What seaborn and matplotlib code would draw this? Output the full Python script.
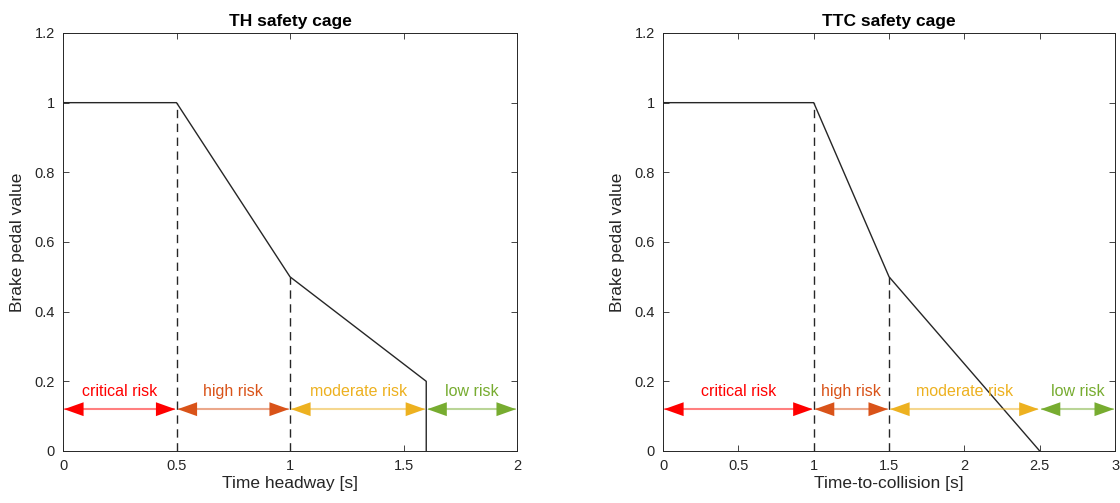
import seaborn as sns
import matplotlib.pyplot as plt
import pandas as pd

# brake curves
th_x = [0, 0.5, 1.0, 1.6, 1.6]
th_y = [1, 1, 0.5, 0.2, 0]
ttc_x = [0, 1.0, 1.5, 2.5]
ttc_y = [1, 1, 0.5, 0]

# risk zones (start, end) per panel
zone_names = ['critical risk', 'high risk', 'moderate risk', 'low risk']
zone_colors = ['#ff0000', '#d95319', '#edb120', '#77ac30']
th_zones = [(0, 0.5), (0.5, 1.0), (1.0, 1.6), (1.6, 2.0)]
ttc_zones = [(0, 1.0), (1.0, 1.5), (1.5, 2.5), (2.5, 3.0)]

# dashed markers (x, top)
th_dashes = [(0.5, 1.0), (1.0, 0.5)]
ttc_dashes = [(1.0, 1.0), (1.5, 0.5)]

sns.set_style("ticks")
plt.rcParams['font.family'] = ['Liberation Sans', 'DejaVu Sans']
plt.rcParams['axes.edgecolor'] = '#262626'
plt.rcParams['xtick.color'] = '#262626'
plt.rcParams['ytick.color'] = '#262626'

fig = plt.figure(figsize=(11.2, 5.03), dpi=100)
ax1 = fig.add_axes([0.05625, 0.1034, 0.4054, 0.831])
ax2 = fig.add_axes([0.592, 0.1034, 0.4036, 0.831])


def draw_panel(ax, cx, cy, zones, dashes, xmax, xlabel, title, pad):
    df = pd.DataFrame({'x': cx, 'y': cy})
    sns.lineplot(data=df, x='x', y='y', ax=ax, color='#262626', lw=1,
                 sort=False, estimator=None)
    for x, top in dashes:
        ax.plot([x, x], [0, top], color='#262626', lw=1, ls=(0, (6, 4)))
    for (a, b), name, col in zip(zones, zone_names, zone_colors):
        ax.plot([a + pad, b - pad], [0.12, 0.12], color=col, alpha=0.5, lw=1.5)
        ax.annotate('', xy=(b - pad * 0.5, 0.12), xytext=(a + pad * 0.5, 0.12),
                    arrowprops=dict(arrowstyle='<|-|>,head_length=1.4,head_width=0.5',
                                    color=col, lw=0, shrinkA=0, shrinkB=0))
        ax.text((a + b) / 2, 0.148, name, color=col, fontsize=11.5,
                ha='center', va='bottom')
    ax.set_xlim(0, xmax)
    ax.set_ylim(0, 1.2)
    ax.set_yticks([0, 0.2, 0.4, 0.6, 0.8, 1, 1.2])
    ax.set_yticklabels(['0', '0.2', '0.4', '0.6', '0.8', '1', '1.2'])
    ax.set_xlabel(xlabel, fontsize=12.5, color='#262626', labelpad=2)
    ax.set_ylabel('Brake pedal value', fontsize=12.5, color='#262626', labelpad=7)
    ax.set_title(title, fontsize=12.5, fontweight='bold', color='black', pad=5)
    ax.tick_params(direction='in', top=True, right=True, length=4, width=0.6,
                   labelsize=10.5, pad=6)
    for s in ax.spines.values():
        s.set_linewidth(0.7)


draw_panel(ax1, th_x, th_y, th_zones, th_dashes, 2, 'Time headway [s]',
           'TH safety cage', 0.01)
ax1.set_xticks([0, 0.5, 1, 1.5, 2])
ax1.set_xticklabels(['0', '0.5', '1', '1.5', '2'])
draw_panel(ax2, ttc_x, ttc_y, ttc_zones, ttc_dashes, 3, 'Time-to-collision [s]',
           'TTC safety cage', 0.015)
ax2.set_xticks([0, 0.5, 1, 1.5, 2, 2.5, 3])
ax2.set_xticklabels(['0', '0.5', '1', '1.5', '2', '2.5', '3'])

fig.savefig('out.png', dpi=100)
